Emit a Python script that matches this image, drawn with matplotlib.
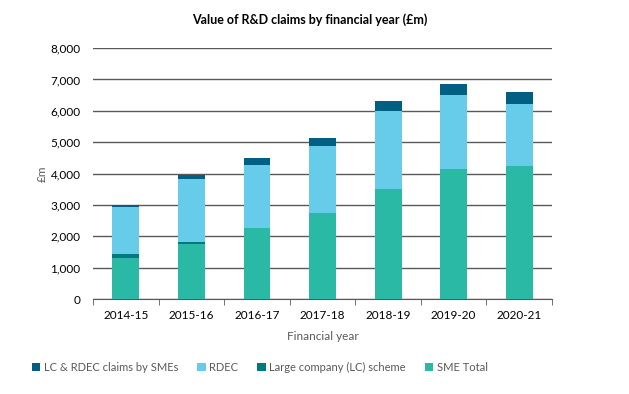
import matplotlib.pyplot as plt
import numpy as np

years = ['2014-15', '2015-16', '2016-17', '2017-18', '2018-19', '2019-20', '2020-21']
sme_total = [1300, 1750, 2250, 2730, 3500, 4140, 4235]
lc_scheme = [120, 55, 10, 0, 0, 0, 0]
rdec = [1510, 2015, 2005, 2140, 2490, 2360, 1980]
lc_rdec_smes = [80, 130, 225, 250, 320, 350, 385]

plt.rcParams['font.family'] = ['Lato', 'DejaVu Sans']

fig = plt.figure(figsize=(6.29, 3.94), dpi=100)
ax = fig.add_axes([0.148, 0.241, 0.7296, 0.637])

x = np.arange(len(years))
w = 0.41
b1 = np.array(sme_total)
b2 = b1 + np.array(lc_scheme)
b3 = b2 + np.array(rdec)

ax.bar(x, sme_total, w, color='#29b9a5', label='SME Total', zorder=3)
ax.bar(x, lc_scheme, w, bottom=b1, color='#007b7d', label='Large company (LC) scheme', zorder=3)
ax.bar(x, rdec, w, bottom=b2, color='#66cce9', label='RDEC', zorder=3)
ax.bar(x, lc_rdec_smes, w, bottom=b3, color='#005f82', label='LC & RDEC claims by SMEs', zorder=3)

ax.set_xlim(-0.5, len(years) - 0.5)
ax.set_ylim(0, 8000)
ax.set_yticks(np.arange(0, 8001, 1000))
ax.set_yticklabels([f'{v:,}' for v in range(0, 8001, 1000)])
ax.yaxis.grid(True, color='#595959', linewidth=1)
ax.set_axisbelow(True)
ax.tick_params(axis='y', length=0, pad=9, labelsize=8.5)

ax.set_xticks(x)
ax.set_xticklabels(years)
ax.set_xticks(np.arange(-0.5, len(years), 1), minor=True)
ax.tick_params(axis='x', which='major', length=0, pad=8, labelsize=8.5)
ax.tick_params(axis='x', which='minor', length=4, color='#595959')

for s in ['top', 'right', 'left']:
    ax.spines[s].set_visible(False)
ax.spines['bottom'].set_color('#595959')

ax.set_xlabel('Financial year', color='#595959', fontsize=8.5, labelpad=7)
ax.set_ylabel('£m', color='#595959', fontsize=8.5, labelpad=2)

fig.text(0.492, 0.949, 'Value of R&D claims by financial year (£m)',
         ha='center', va='center', fontsize=9, fontweight='bold')

handles, labels = ax.get_legend_handles_labels()
fig.legend(handles[::-1], labels[::-1], loc='center', bbox_to_anchor=(0.413, 0.068),
           ncol=4, frameon=False, fontsize=8, labelcolor='#595959',
           handlelength=0.75, handleheight=0.75, handletextpad=0.3, columnspacing=1.75)

fig.savefig('out.png', dpi=100)
